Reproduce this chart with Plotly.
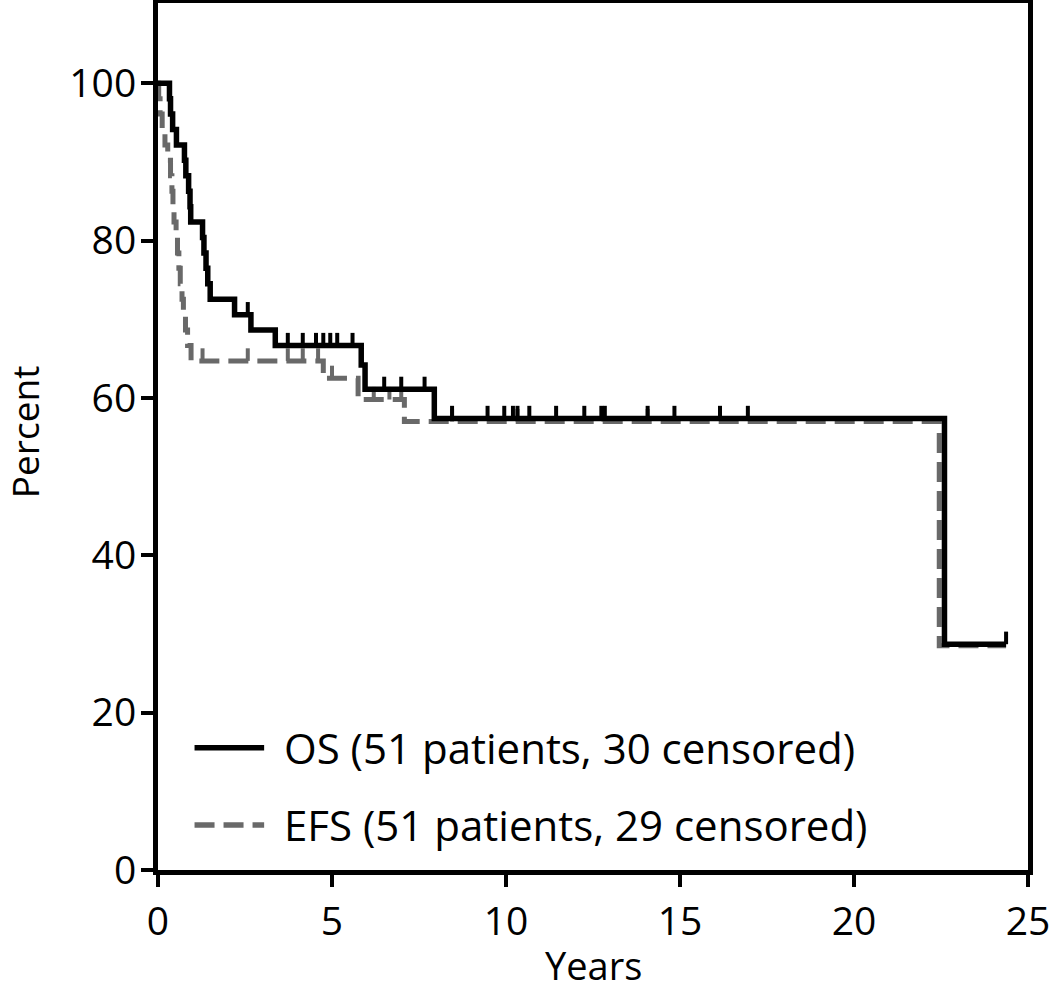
import plotly.graph_objects as go

# Kaplan-Meier steps (years, percent)
os_t = [0, 0.33, 0.36, 0.42, 0.53, 0.76, 0.80, 0.88, 0.92, 0.94, 1.28, 1.32, 1.38, 1.43, 1.50,
        2.20, 2.67, 3.37, 5.84, 5.95, 7.94, 22.6, 24.37]
os_s = [100, 98.04, 96.08, 94.12, 92.16, 90.20, 88.24, 86.27, 84.31, 82.35, 80.39, 78.43, 76.47,
        74.51, 72.55, 70.59, 68.63, 66.67, 64.2, 61.1, 57.4, 28.7, 28.7]

efs_t = [0, 0.02, 0.06, 0.12, 0.20, 0.28, 0.36, 0.40, 0.43, 0.46, 0.52, 0.56, 0.60, 0.64, 0.69,
         0.73, 0.79, 0.85, 0.95, 4.75, 5.75, 7.08, 22.45, 24.37]
efs_s = [100, 98.04, 96.08, 94.12, 92.16, 90.20, 88.24, 86.27, 84.31, 82.35, 80.39, 78.43, 76.47,
         74.51, 72.55, 70.59, 68.63, 66.67, 64.71, 62.5, 59.8, 57.0, 28.5, 28.5]

# censored observations
os_cens_t = [2.58, 3.73, 4.16, 4.54, 4.75, 4.95, 5.15, 5.59, 6.50, 6.99, 7.66, 8.45, 9.47, 9.95,
             10.2, 10.33, 10.67, 11.44, 12.25, 12.74, 12.84, 14.07, 14.84, 16.15, 16.95, 24.37]
os_cens_s = [70.59, 66.67, 66.67, 66.67, 66.67, 66.67, 66.67, 66.67, 61.1, 61.1, 61.1, 57.4, 57.4,
             57.4, 57.4, 57.4, 57.4, 57.4, 57.4, 57.4, 57.4, 57.4, 57.4, 57.4, 57.4, 28.7]
efs_cens_t = [1.28, 2.58, 3.73, 4.16, 4.60, 5.00, 6.20, 6.65, 6.99, 8.45, 10.33, 12.80, 14.07]
efs_cens_s = [64.71, 64.71, 64.71, 64.71, 64.71, 62.5, 59.8, 59.8, 59.8, 57.0, 57.0, 57.0, 57.0]

legend_labels = ["OS (51 patients, 30 censored)", "EFS (51 patients, 29 censored)"]
x_title = "Years"
y_title = "Percent"

FONT = "Open Sans"
GREY = "#696969"
DASH = "20px,9px"
TICK_H = 1.6


def cens_xy(ts, ss):
    xs, ys = [], []
    for t, s in zip(ts, ss):
        xs += [t, t, None]
        ys += [s, s + TICK_H, None]
    return xs, ys


fig = go.Figure()

ex, ey = cens_xy(efs_cens_t, efs_cens_s)
fig.add_trace(go.Scatter(x=ex, y=ey, mode="lines", line=dict(color=GREY, width=4),
                         showlegend=False, hoverinfo="skip"))
fig.add_trace(go.Scatter(x=efs_t, y=efs_s, mode="lines", line_shape="hv",
                         line=dict(color=GREY, width=5, dash=DASH),
                         name=legend_labels[1], showlegend=False))

ox, oy = cens_xy(os_cens_t, os_cens_s)
fig.add_trace(go.Scatter(x=ox, y=oy, mode="lines", line=dict(color="black", width=4),
                         showlegend=False, hoverinfo="skip"))
fig.add_trace(go.Scatter(x=os_t, y=os_s, mode="lines", line_shape="hv",
                         line=dict(color="black", width=5.5),
                         name=legend_labels[0], showlegend=False))

# hand-drawn legend inside the plot
rows = [(0.141, "black", "solid"), (0.052, GREY, DASH)]
for (yy, col, dash), lab in zip(rows, legend_labels):
    fig.add_shape(type="line", xref="paper", yref="paper", x0=0.042, x1=0.122, y0=yy, y1=yy,
                  line=dict(color=col, width=5.5, dash=dash))
    fig.add_annotation(xref="paper", yref="paper", x=0.143, y=yy, text=lab, showarrow=False,
                       xanchor="left", yanchor="middle", font=dict(size=42, color="black", family=FONT))

# axis titles as annotations (easier to place)
fig.add_annotation(xref="paper", yref="paper", x=0.5, y=-0.11, text=x_title, showarrow=False,
                   xanchor="center", yanchor="middle", borderpad=0,
                   font=dict(size=38, color="black", family=FONT))
fig.add_annotation(xref="paper", yref="paper", x=-0.154, y=0.505, text=y_title, showarrow=False,
                   textangle=-90, xanchor="center", yanchor="middle", borderpad=0,
                   font=dict(size=37, color="black", family=FONT))

axis_common = dict(showline=True, linecolor="black", linewidth=5, mirror=True,
                   ticks="outside", ticklen=12, tickwidth=4, tickcolor="black",
                   showgrid=False, zeroline=False, automargin=False, ticklabeloverflow="allow",
                   tickfont=dict(size=39, color="black", family=FONT))

fig.update_xaxes(range=[0, 25], tickvals=[0, 5, 10, 15, 20, 25], ticklabelstandoff=1,
                 **axis_common)
fig.update_yaxes(range=[0, 110.2], tickvals=[0, 20, 40, 60, 80, 100], ticklabelstandoff=-3,
                 **axis_common)

fig.update_layout(width=1050, height=993, plot_bgcolor="white", paper_bgcolor="white",
                  margin=dict(l=158, r=22, t=3, b=123), showlegend=False,
                  font=dict(family=FONT))

fig.write_html("out.html", config={"displayModeBar": False},
               post_script="document.body.style.margin='0';")
